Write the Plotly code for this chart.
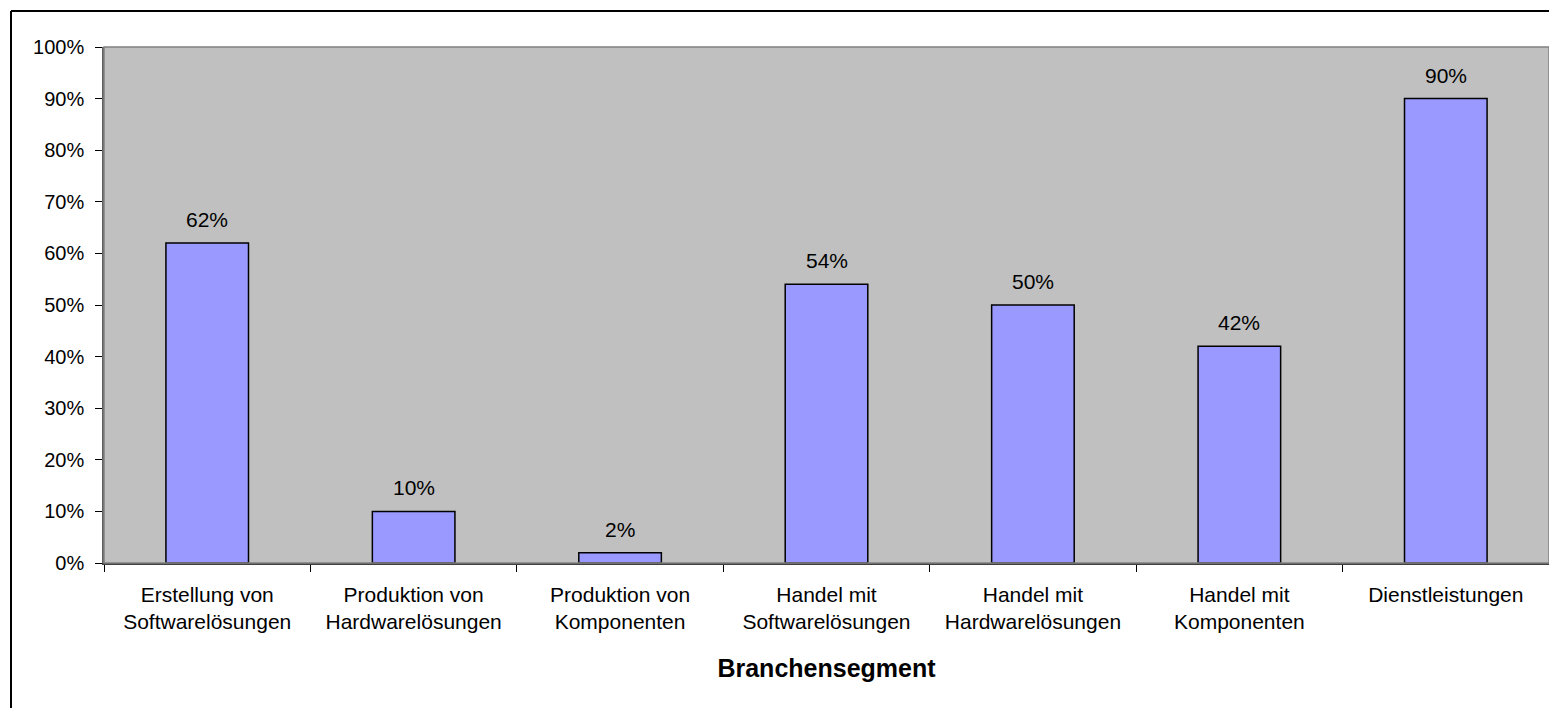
import plotly.graph_objects as go

categories = [
    "Erstellung von<br>Softwarelösungen",
    "Produktion von<br>Hardwarelösungen",
    "Produktion von<br>Komponenten",
    "Handel mit<br>Softwarelösungen",
    "Handel mit<br>Hardwarelösungen",
    "Handel mit<br>Komponenten",
    "Dienstleistungen",
]
values = [62, 10, 2, 54, 50, 42, 90]
x_title = "Branchensegment"

W, H = 1549, 708
L, R, T, B = 104, 0, 47, 145
pw, ph = W - L - R, H - T - B

def px(x):
    return (x - L) / pw

def py(y):
    return (H - B - y) / ph

FONT = "Liberation Sans, Arial, sans-serif"

fig = go.Figure(go.Bar(
    x=categories, y=values,
    marker=dict(color="#9999FF", line=dict(color="black", width=1.5)),
))

for c, v in zip(categories, values):
    fig.add_annotation(x=c, y=v, text=f"{v}%", showarrow=False,
                       yanchor="bottom", yshift=10,
                       font=dict(family=FONT, size=21, color="black"))

# plot-area border (gray)
fig.add_shape(type="rect", xref="paper", yref="paper", x0=0, x1=1, y0=0, y1=1,
              line=dict(color="#808080", width=1.5), layer="above")
# outer chart border (black), cropped at right/bottom
fig.add_shape(type="line", xref="paper", yref="paper",
              x0=px(11), x1=px(W + 20), y0=py(11), y1=py(11),
              line=dict(color="black", width=2))
fig.add_shape(type="line", xref="paper", yref="paper",
              x0=px(11), x1=px(11), y0=py(11), y1=py(H + 20),
              line=dict(color="black", width=2))

fig.update_layout(
    width=W, height=H,
    margin=dict(l=L, r=R, t=T, b=B, pad=0),
    paper_bgcolor="white", plot_bgcolor="#C0C0C0",
    bargap=0.6, showlegend=False,
    font=dict(family=FONT, size=20, color="black"),
    xaxis=dict(
        showgrid=False, showline=True, linecolor="#404040", linewidth=1.5,
        ticks="outside", ticklen=7, tickcolor="black",
        tickson="boundaries", ticklabelstandoff=12,
        tickfont=dict(family=FONT, size=21),
        title=dict(text=f"<b>{x_title}</b>", standoff=27,
                   font=dict(family=FONT, size=25)),
    ),
    yaxis=dict(
        range=[0, 100], dtick=10, ticksuffix="%",
        showgrid=False, showline=True, linecolor="#606060", linewidth=1.5,
        ticks="outside", ticklen=7, tickcolor="black",
        ticklabelstandoff=7,
        tickfont=dict(family=FONT, size=20),
        zeroline=False,
    ),
)

fig.write_html(
    "out.html",
    config={"displayModeBar": False},
    post_script="document.body.style.margin='0';document.body.style.overflow='hidden';",
)
